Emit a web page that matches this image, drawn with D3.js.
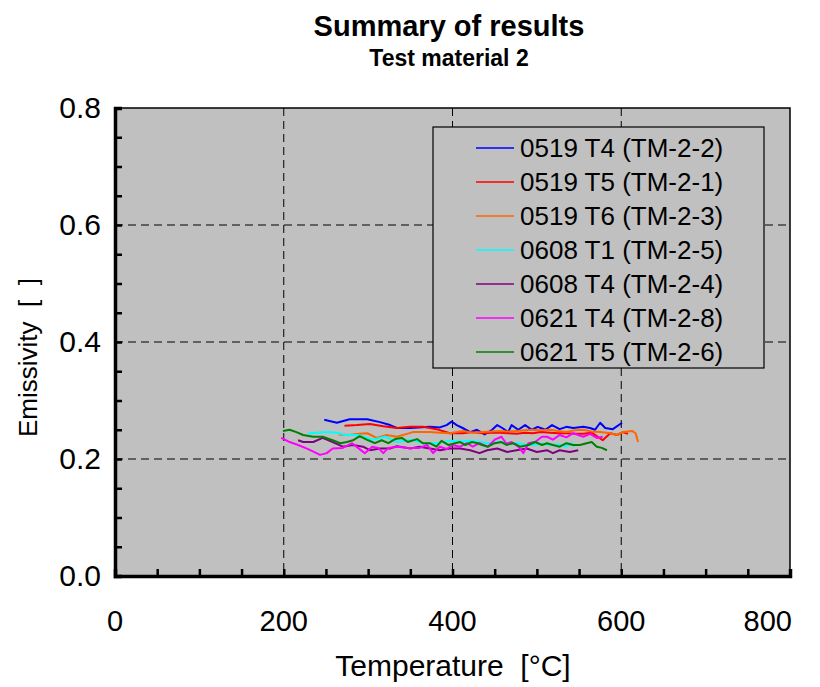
<!DOCTYPE html>
<html><head><meta charset="utf-8">
<script src="https://cdn.jsdelivr.net/npm/d3@7"></script>
<style>body{margin:0;background:#fff}svg{display:block;font-family:"Liberation Sans",Arial,sans-serif}</style>
</head><body><svg id="c" width="820" height="687"></svg>
<script>
const seriesNames = ["0519 T4 (TM-2-2)","0519 T5 (TM-2-1)","0519 T6 (TM-2-3)","0608 T1 (TM-2-5)","0608 T4 (TM-2-4)","0621 T4 (TM-2-8)","0621 T5 (TM-2-6)"];
const seriesColors = ["#0000ff","#ff0000","#ff6600","#00ffff","#800080","#ff00ff","#008000"];
const xTicks = [0,200,400,600,800];
const yTicks = [0.0,0.2,0.4,0.6,0.8];

const t1 = [248,263,278,299,314,326,334,350,373,385,393,399,405,412,421,429,438,447,453,459,466,470,478,486,494,501,510,518,527,535,543,555,563,569,575,581,590,601];
const e1 = [0.267,0.262,0.268,0.268,0.263,0.258,0.253,0.253,0.255,0.254,0.258,0.264,0.258,0.253,0.246,0.250,0.242,0.250,0.258,0.253,0.246,0.258,0.250,0.258,0.250,0.255,0.250,0.258,0.251,0.255,0.253,0.255,0.253,0.250,0.262,0.253,0.251,0.262];
const t2 = [272,287,302,318,334,350,365,381,397,412,424,436,446,456,466,476,486,495,505,516,525,535,545,555,565,578,587,595,602,608];
const e2 = [0.257,0.258,0.260,0.256,0.253,0.255,0.255,0.251,0.244,0.244,0.246,0.244,0.245,0.245,0.244,0.243,0.245,0.244,0.246,0.245,0.244,0.244,0.243,0.243,0.245,0.232,0.244,0.241,0.246,0.243];
const t3 = [265,278,289,299,310,322,334,346,353,361,373,385,397,405,412,424,436,446,456,466,476,486,495,505,516,525,535,545,555,565,575,587,595,602,613,617,620];
const e3 = [0.242,0.241,0.243,0.244,0.236,0.241,0.238,0.243,0.246,0.246,0.246,0.245,0.244,0.246,0.248,0.245,0.246,0.247,0.248,0.247,0.248,0.249,0.250,0.249,0.250,0.248,0.246,0.249,0.250,0.247,0.246,0.244,0.241,0.246,0.248,0.244,0.229];
const t4 = [229,239,251,263,273,288,305,320,335,352,365,381,397,409,421,432,444,456,466,476,486,495,505,516,527,535,541,545];
const e4 = [0.244,0.245,0.246,0.245,0.241,0.241,0.233,0.238,0.229,0.233,0.227,0.227,0.231,0.230,0.231,0.229,0.227,0.229,0.226,0.227,0.225,0.224,0.226,0.224,0.225,0.221,0.227,0.221];
const t5 = [217,223,235,246,258,270,282,294,302,314,326,334,350,361,373,385,397,409,421,432,441,453,465,476,488,500,512,519,527,539,549];
const e5 = [0.232,0.229,0.229,0.236,0.229,0.221,0.224,0.221,0.215,0.218,0.218,0.222,0.218,0.221,0.218,0.215,0.218,0.218,0.215,0.210,0.215,0.218,0.212,0.215,0.218,0.212,0.215,0.210,0.215,0.212,0.215];
const t6 = [197,207,217,229,243,251,258,270,281,288,296,305,312,318,324,335,347,361,370,377,385,393,400,409,417,424,432,442,450,458,464,470,478,484,490,498,506,512,519,527,535,543,555,563,571,578];
const e6 = [0.236,0.229,0.224,0.217,0.207,0.210,0.218,0.219,0.227,0.219,0.210,0.221,0.219,0.210,0.219,0.221,0.219,0.219,0.224,0.210,0.221,0.217,0.224,0.221,0.227,0.221,0.227,0.221,0.233,0.238,0.226,0.229,0.221,0.210,0.227,0.229,0.238,0.238,0.233,0.241,0.237,0.244,0.238,0.243,0.236,0.238];
const t7 = [199,207,215,223,235,246,258,267,275,282,290,300,308,316,324,332,340,347,358,365,373,381,387,395,403,409,415,423,430,435,442,450,458,464,472,480,490,498,506,512,519,527,535,543,551,559,565,571,577,583];
const e7 = [0.248,0.250,0.246,0.241,0.238,0.238,0.232,0.227,0.229,0.232,0.239,0.232,0.227,0.232,0.227,0.234,0.236,0.229,0.234,0.227,0.227,0.221,0.231,0.224,0.227,0.229,0.224,0.229,0.227,0.224,0.221,0.227,0.229,0.224,0.227,0.221,0.224,0.229,0.224,0.227,0.224,0.221,0.227,0.224,0.224,0.227,0.229,0.221,0.219,0.215];

const temps = [t1,t2,t3,t4,t5,t6,t7];
const emis = [e1,e2,e3,e4,e5,e6,e7];

const L=115,R=790,T=108,B=576;
const svg=d3.select("#c");
const x=d3.scaleLinear().domain([0,800]).range([L,R]);
const y=d3.scaleLinear().domain([0,0.8]).range([B,T]);

svg.append("rect").attr("x",L).attr("y",T).attr("width",R-L).attr("height",B-T).attr("fill","#c0c0c0");

// gridlines
svg.append("g").selectAll("line").data(xTicks.filter(v=>v>0&&v<800)).join("line")
 .attr("x1",d=>x(d)).attr("x2",d=>x(d)).attr("y1",T).attr("y2",B)
 .attr("stroke","#000").attr("stroke-width",1).attr("stroke-dasharray","8,5");
svg.append("g").selectAll("line").data(yTicks.filter(v=>v>0&&v<0.8)).join("line")
 .attr("y1",d=>y(d)).attr("y2",d=>y(d)).attr("x1",L).attr("x2",R)
 .attr("stroke","#000").attr("stroke-width",1).attr("stroke-dasharray","8,5");

// series
const line=d3.line().x(d=>x(d[0])).y(d=>y(d[1]));
seriesNames.forEach((n,i)=>{
  const pts=temps[i].map((t,j)=>[t,emis[i][j]]);
  svg.append("path").datum(pts).attr("d",line).attr("fill","none")
   .attr("stroke",seriesColors[i]).attr("stroke-width",2).attr("stroke-linejoin","round");
});

// border
svg.append("rect").attr("x",L).attr("y",T).attr("width",R-L).attr("height",B-T)
 .attr("fill","none").attr("stroke","#000").attr("stroke-width",1.5);

// axes with inward ticks
const xAxis=d3.axisBottom(x).tickValues(d3.range(0,801,50)).tickSize(-7).tickFormat("");
const gx=svg.append("g").attr("transform",`translate(0,${B})`).call(xAxis);
const yAxis=d3.axisLeft(y).tickValues(d3.range(0,0.801,0.05)).tickSize(-7).tickFormat("");
const gy=svg.append("g").attr("transform",`translate(${L},0)`).call(yAxis);
[gx,gy].forEach(g=>{g.selectAll(".tick line").attr("stroke","#000").attr("stroke-width",2.5);g.select(".domain").attr("stroke","#000").attr("stroke-width",3.5);});

// tick labels
svg.append("g").selectAll("text").data(xTicks).join("text")
 .attr("x",d=>d===800?792:x(d)).attr("y",631).attr("text-anchor",d=>d===800?"end":"middle").attr("font-size",29).text(d=>d);
svg.append("g").selectAll("text").data(yTicks).join("text")
 .attr("x",L-14).attr("y",d=>y(d)+10).attr("text-anchor","end").attr("font-size",30).text(d=>d.toFixed(1));

// axis titles
svg.append("text").attr("x",453).attr("y",676).attr("text-anchor","middle").attr("font-size",30).attr("xml:space","preserve").text("Temperature  [°C]");
svg.append("text").attr("transform","translate(37,437) rotate(-90)").attr("text-anchor","start").attr("font-size",26).attr("xml:space","preserve").text("Emissivity  [  ]");

// titles
svg.append("text").attr("x",449).attr("y",36).attr("text-anchor","middle").attr("font-size",29).attr("font-weight","bold").text("Summary of results");
svg.append("text").attr("x",449).attr("y",66).attr("text-anchor","middle").attr("font-size",23).attr("font-weight","bold").text("Test material 2");

// legend
const lg=svg.append("g");
lg.append("rect").attr("x",433).attr("y",127).attr("width",331).attr("height",241).attr("fill","#c0c0c0").attr("stroke","#000").attr("stroke-width",1.2);
seriesNames.forEach((n,i)=>{
  const yy=148+i*34;
  lg.append("line").attr("x1",476).attr("x2",514).attr("y1",yy).attr("y2",yy).attr("stroke",seriesColors[i]).attr("stroke-width",1.6);
  lg.append("text").attr("x",520).attr("y",yy+9).attr("font-size",26).text(n);
});
</script></body></html>
